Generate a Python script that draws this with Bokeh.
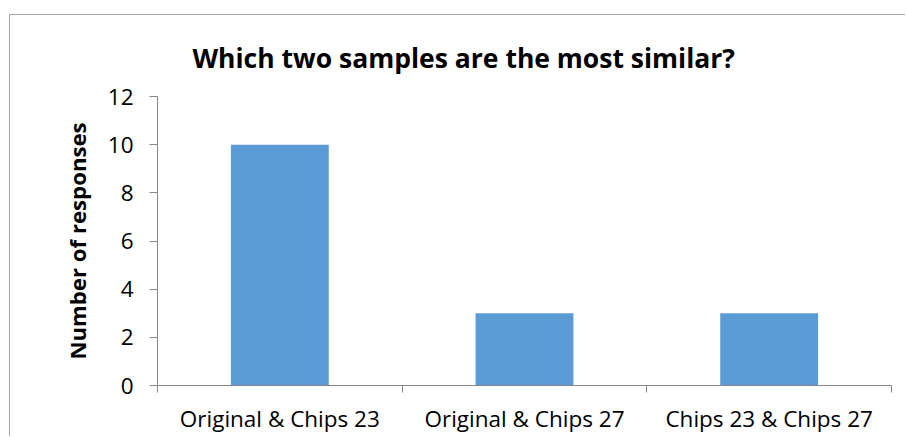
from bokeh.plotting import figure
from bokeh.models import Range1d, FixedTicker, ColumnDataSource
from bokeh.embed import file_html
from bokeh.resources import INLINE

title = "Which two samples are the most similar?"
y_label = "Number of responses"
categories = ["Original & Chips 23", "Original & Chips 27", "Chips 23 & Chips 27"]
responses = [10, 3, 3]
y_ticks = [0, 2, 4, 6, 8, 10, 12]

FONT = "Open Sans"
n = len(categories)
centers = [i + 0.5 for i in range(n)]
bounds = list(range(n + 1))

p = figure(width=896, height=422, output_backend="svg", toolbar_location=None,
           x_range=Range1d(0, n), y_range=Range1d(0, 12),
           min_border_left=147, min_border_right=15, min_border_top=81, min_border_bottom=52)
p.styles = {"position": "absolute", "left": "10px", "top": "15px",
            "box-shadow": "-1px -1px 0px 0px #A6A6A6"}
p.outline_line_color = None
p.grid.visible = False
p.background_fill_color = "white"
p.border_fill_color = "white"

p.title.text = title
p.title.text_font = FONT
p.title.text_font_style = "bold"
p.title.text_font_size = "26.5px"
p.title.text_color = "black"
p.title.align = "left"
p.title.offset = 35
p.title.standoff = 41

src = ColumnDataSource(dict(x=centers, top=responses))
p.vbar(x="x", top="top", width=0.4, bottom=0, source=src, fill_color="#5B9BD5", line_color=None)

AX = "#868686"
ya = p.yaxis[0]
ya.ticker = FixedTicker(ticks=y_ticks)
ya.axis_line_color = AX
ya.major_tick_line_color = AX
ya.major_tick_out = 8
ya.major_tick_in = 0
ya.minor_tick_line_color = None
ya.major_label_text_font = FONT
ya.major_label_text_font_size = "22.5px"
ya.major_label_text_color = "black"
ya.major_label_standoff = 16
ya.axis_label = y_label
ya.axis_label_text_font = FONT
ya.axis_label_text_font_style = "bold"
ya.axis_label_text_font_size = "22.2px"
ya.axis_label_text_color = "black"
ya.axis_label_standoff = 12

xa = p.xaxis[0]
xa.ticker = FixedTicker(ticks=centers, minor_ticks=bounds)
xa.major_label_overrides = {c: lab for c, lab in zip(centers, categories)}
xa.axis_line_color = AX
xa.major_tick_line_color = None
xa.major_tick_out = 0
xa.major_tick_in = 0
xa.minor_tick_line_color = AX
xa.minor_tick_out = 7
xa.minor_tick_in = 0
xa.major_label_text_font = FONT
xa.major_label_text_font_size = "22.5px"
xa.major_label_text_color = "black"
xa.major_label_standoff = 10

open("out.html", "w").write(file_html(p, INLINE))
